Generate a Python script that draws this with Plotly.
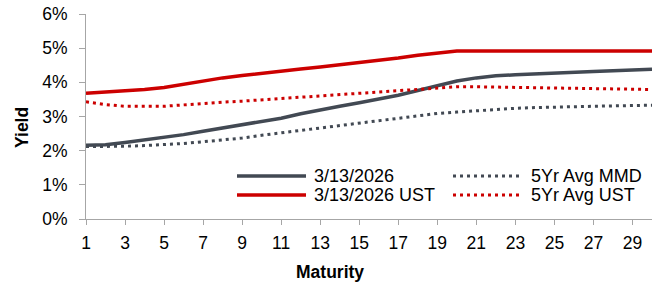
import plotly.graph_objects as go

maturity = list(range(1, 31))

yield_current = [2.16, 2.17, 2.24, 2.31, 2.38, 2.47, 2.57, 2.66, 2.75, 2.84,
                 2.95, 3.08, 3.20, 3.30, 3.40, 3.51, 3.62, 3.76, 3.91, 4.04,
                 4.13, 4.19, 4.22, 4.25, 4.27, 4.30, 4.32, 4.34, 4.36, 4.38]
yield_current_ust = [3.68, 3.72, 3.74, 3.79, 3.85, 3.94, 4.05, 4.13, 4.20, 4.27,
                     4.33, 4.39, 4.45, 4.51, 4.58, 4.64, 4.71, 4.79, 4.86, 4.92,
                     4.92, 4.92, 4.92, 4.92, 4.92, 4.92, 4.92, 4.92, 4.92, 4.92]
avg_mmd = [2.12, 2.12, 2.13, 2.15, 2.17, 2.21, 2.26, 2.31, 2.37, 2.45,
           2.52, 2.59, 2.66, 2.73, 2.80, 2.89, 2.96, 3.03, 3.09, 3.13,
           3.17, 3.21, 3.24, 3.26, 3.28, 3.29, 3.30, 3.31, 3.32, 3.33]
avg_ust = [3.43, 3.35, 3.30, 3.29, 3.30, 3.34, 3.39, 3.42, 3.45, 3.49,
           3.53, 3.56, 3.60, 3.63, 3.67, 3.72, 3.76, 3.80, 3.84, 3.87,
           3.87, 3.86, 3.85, 3.85, 3.84, 3.83, 3.82, 3.81, 3.80, 3.79]

series_names = ["3/13/2026", "3/13/2026 UST", "5Yr Avg MMD", "5Yr Avg UST"]
x_ticks = list(range(1, 31, 2))
y_ticks = [0, 1, 2, 3, 4, 5, 6]

GRAY = "#424953"
RED = "#cc0000"
FONT = "Liberation Sans, Arial, sans-serif"
AXIS = "#a6a6a6"
DOT = "3px,4px"

W, H = 662, 288
L, R, T, B = 86, 10, 14, 69
PW, PH = W - L - R, H - T - B

def px(x):
    return (x - L) / PW

def py(y):
    return (H - B - y) / PH

fig = go.Figure()
styles = [
    (yield_current, GRAY, "solid", 3.5),
    (yield_current_ust, RED, "solid", 3.5),
    (avg_mmd, GRAY, DOT, 3),
    (avg_ust, RED, DOT, 3),
]
for name, (vals, col, dash, w) in zip(series_names, styles):
    fig.add_trace(go.Scatter(x=maturity, y=vals, mode="lines", name=name,
                             line=dict(color=col, dash=dash, width=w),
                             showlegend=False, hoverinfo="skip"))

# custom legend
legend_cols = [(237, 306, 312), (453, 519, 529)]
legend_rows = [176, 195]
legend_items = [(0, 0, 0), (1, 0, 1), (2, 1, 0), (3, 1, 1)]
for idx, c, r in legend_items:
    x0, x1, tx = legend_cols[c]
    yy = legend_rows[r]
    _, col, dash, w = styles[idx]
    fig.add_shape(type="line", xref="paper", yref="paper",
                  x0=px(x0), x1=px(x1), y0=py(yy), y1=py(yy),
                  line=dict(color=col, width=w, dash=dash))
    fig.add_annotation(xref="paper", yref="paper", x=px(tx), y=py(yy),
                       text=series_names[idx], showarrow=False,
                       xanchor="left", yanchor="middle",
                       font=dict(family=FONT, size=18, color="#000000"))

fig.add_annotation(xref="paper", yref="paper", x=px(330), y=py(272),
                   text="<b>Maturity</b>", showarrow=False,
                   xanchor="center", yanchor="middle",
                   font=dict(family=FONT, size=17.5, color="#000000"))
fig.add_annotation(xref="paper", yref="paper", x=px(22), y=py(128),
                   text="<b>Yield</b>", showarrow=False, textangle=-90,
                   xanchor="center", yanchor="middle",
                   font=dict(family=FONT, size=17.5, color="#000000"))

fig.update_layout(
    width=W, height=H,
    margin=dict(l=L, r=R, t=T, b=B, autoexpand=False),
    paper_bgcolor="white", plot_bgcolor="white",
    font=dict(family=FONT, size=17.5, color="#000000"),
    showlegend=False,
    xaxis=dict(range=[1, 30], tickvals=x_ticks, ticktext=[str(v) for v in x_ticks],
               showgrid=False, zeroline=False, showline=True, linecolor=AXIS,
               linewidth=1, ticks="outside", ticklen=5, tickcolor=AXIS,
               ticklabelstandoff=3, fixedrange=True, automargin=False),
    yaxis=dict(range=[0, 6], tickvals=y_ticks, ticktext=[f"{v}%" for v in y_ticks],
               showgrid=False, zeroline=False, showline=True, linecolor=AXIS,
               linewidth=1, ticks="outside", ticklen=6, tickcolor=AXIS,
               ticklabelstandoff=8, fixedrange=True, automargin=False),
)

fig.write_html("out.html", config={"displayModeBar": False},
               post_script="document.body.style.margin='0px';document.body.style.overflow='hidden';")
